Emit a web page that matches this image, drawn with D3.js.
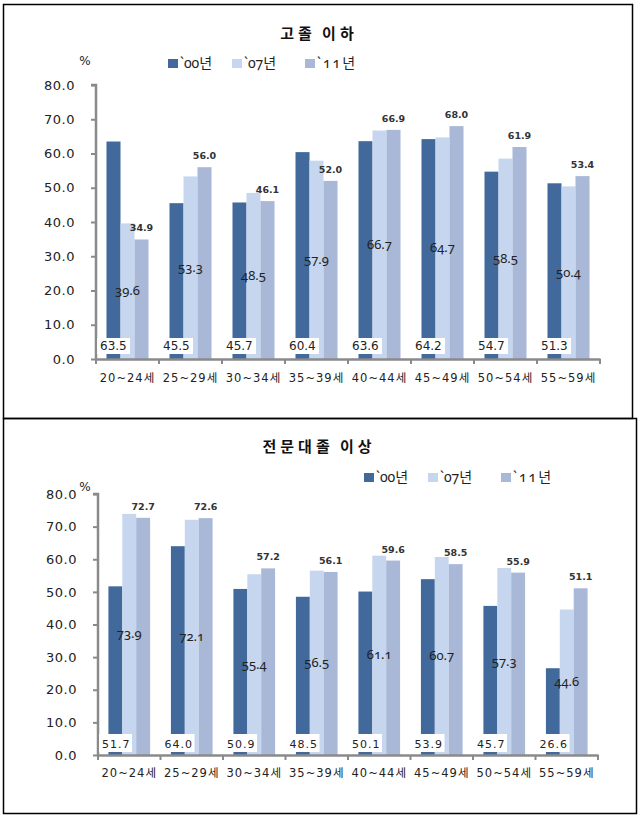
<!DOCTYPE html>
<html>
<head>
<meta charset="utf-8">
<script src="https://cdn.jsdelivr.net/npm/d3@7"></script>
<style>
  body { margin: 0; background: #fff; }
  svg { display: block; }
  .old { font-family: "Noto Sans", "Noto Sans CJK KR", serif; font-variant-numeric: oldstyle-nums; }
</style>
</head>
<body>
<svg id="chart" width="639" height="817"></svg>
<script>
"use strict";

const categories = ["20~24세", "25~29세", "30~34세", "35~39세", "40~44세", "45~49세", "50~54세", "55~59세"];
const series = ["`00년", "`07년", "`11년"];
const yTicks = [0, 10, 20, 30, 40, 50, 60, 70, 80];

const hs00 = [63.5, 45.5, 45.7, 60.4, 63.6, 64.2, 54.7, 51.3];
const hs07 = [39.6, 53.3, 48.5, 57.9, 66.7, 64.7, 58.5, 50.4];
const hs11 = [34.9, 56.0, 46.1, 52.0, 66.9, 68.0, 61.9, 53.4];

const col00 = [51.7, 64.0, 50.9, 48.5, 50.1, 53.9, 45.7, 26.6];
const col07 = [73.9, 72.1, 55.4, 56.5, 61.1, 60.7, 57.3, 44.6];
const col11 = [72.7, 72.6, 57.2, 56.1, 59.6, 58.5, 55.9, 51.1];

const colors = ["#41699c", "#c6d6ee", "#a8b8d6"];
const svg = d3.select("#chart");
const sans = "'DejaVu Sans', 'Noto Sans CJK KR', sans-serif";

// panel frames
svg.append("rect").attr("x", 3.5).attr("y", 4.5).attr("width", 629).attr("height", 414)
    .attr("fill", "none").attr("stroke", "#000").attr("stroke-width", 1.5);
svg.append("rect").attr("x", 3.5).attr("y", 418.5).attr("width", 633).attr("height", 395)
    .attr("fill", "none").attr("stroke", "#000").attr("stroke-width", 1.5);

function drawPanel(spec) {
    const g = svg.append("g");
    const y = d3.scaleLinear().domain([0, 80]).range([spec.y0, spec.y80]);
    const x0 = d3.scaleBand().domain(categories).range([spec.xl, spec.xr]);
    const x1 = d3.scaleBand().domain(series).range([0, x0.bandwidth()]).paddingOuter(0.75);

    // title
    g.append("text").attr("x", 319).attr("y", spec.titleY)
        .attr("text-anchor", "middle")
        .attr("font-family", sans).attr("font-size", 15).attr("font-weight", "bold")
        .attr("letter-spacing", 4).attr("word-spacing", -3).attr("fill", "#111")
        .text(spec.title);

    // legend
    series.forEach((s, i) => {
        const lx = spec.legendX + [0, 64, 137][i];
        g.append("rect").attr("x", lx).attr("y", spec.legendY - 5).attr("width", 10).attr("height", 9)
            .attr("fill", colors[i]);
        g.append("text").attr("x", lx + 12).attr("y", spec.legendY + 4)
            .attr("class", "old").attr("font-size", 14).attr("fill", "#222")
            .attr("letter-spacing", i == 2 ? 2 : 0)
            .text(s);
    });

    g.append("text").attr("x", 85).attr("y", spec.pctY).attr("text-anchor", "middle")
        .attr("font-family", sans).attr("font-size", 12).attr("fill", "#222").text("%");

    // bars
    const data = spec.values;
    categories.forEach((c, ci) => {
        series.forEach((s, si) => {
            const v = data[si][ci];
            g.append("rect")
                .attr("x", x0(c) + x1(s))
                .attr("y", y(v))
                .attr("width", x1.bandwidth())
                .attr("height", y(0) - y(v))
                .attr("fill", colors[si]);
        });
    });

    // y axis
    const yAxis = g.append("g").attr("transform", `translate(${spec.xl},0)`)
        .call(d3.axisLeft(y).tickValues(yTicks).tickFormat(d3.format(".1f")).tickSize(5).tickPadding(16));
    yAxis.select(".domain").attr("stroke", "#8a8a8a").attr("stroke-width", 2.5).attr("d", `M-5,${y(80)}H0V${y(0)}`);
    yAxis.selectAll(".tick line").attr("stroke", "#8a8a8a").attr("stroke-width", 2);
    yAxis.selectAll(".tick text").attr("font-family", sans).attr("font-size", 13).attr("fill", "#222")
        .attr("letter-spacing", 0.5);

    // x axis
    const xAxis = g.append("g").attr("transform", `translate(0,${y(0)})`)
        .call(d3.axisBottom(x0).tickSize(0).tickPadding(spec.xLabelPad));
    xAxis.select(".domain").attr("stroke", "#8a8a8a").attr("stroke-width", 2.5);
    xAxis.selectAll(".tick text").attr("font-family", sans).attr("font-size", 11.5).attr("fill", "#222")
        .attr("letter-spacing", 1);
    const bounds = categories.map(c => x0(c)).concat([spec.xr]);
    g.selectAll(".xb").data(bounds).enter().append("line")
        .attr("x1", d => d).attr("x2", d => d)
        .attr("y1", y(0)).attr("y2", y(0) + 5)
        .attr("stroke", "#8a8a8a").attr("stroke-width", 2);

    // value labels
    categories.forEach((c, ci) => {
        const bx = x0(c);
        g.append("rect").attr("x", bx + 1).attr("y", y(0) - spec.boxOff - spec.boxH)
            .attr("width", 33).attr("height", spec.boxH).attr("fill", "#fff");
        g.append("text").attr("x", bx + 4).attr("y", y(0) - spec.boxOff - 4)
            .attr("font-family", sans).attr("font-size", spec.boxFont).attr("fill", "#222")
            .attr("letter-spacing", spec.boxSpacing)
            .text(data[0][ci].toFixed(1));

        const v7 = data[1][ci];
        g.append("text").attr("x", bx + x1(series[1]) + x1.bandwidth() / 2)
            .attr("y", (y(v7) + y(0)) / 2 + 4)
            .attr("text-anchor", "middle").attr("class", "old")
            .attr("font-size", 13).attr("fill", "#222")
            .text(v7.toFixed(1));

        const v11 = data[2][ci];
        g.append("text").attr("x", bx + x1(series[2]) + x1.bandwidth() / 2)
            .attr("y", y(v11) - 8)
            .attr("text-anchor", "middle")
            .attr("font-family", sans).attr("font-size", 9.5).attr("font-weight", "bold").attr("fill", "#333")
            .text(v11.toFixed(1));
    });
}

drawPanel({
    title: "고졸 이하", titleY: 39,
    legendX: 168, legendY: 64, pctY: 65,
    xl: 96, xr: 600, y0: 359, y80: 85,
    values: [hs00, hs07, hs11],
    xLabelPad: 15, boxOff: 5, boxH: 16, boxFont: 12, boxSpacing: 0
});

drawPanel({
    title: "전문대졸 이상", titleY: 452,
    legendX: 364, legendY: 478, pctY: 491,
    xl: 98, xr: 598, y0: 755, y80: 494,
    values: [col00, col07, col11],
    xLabelPad: 14, boxOff: 3, boxH: 18, boxFont: 11, boxSpacing: 1
});
</script>
</body>
</html>
